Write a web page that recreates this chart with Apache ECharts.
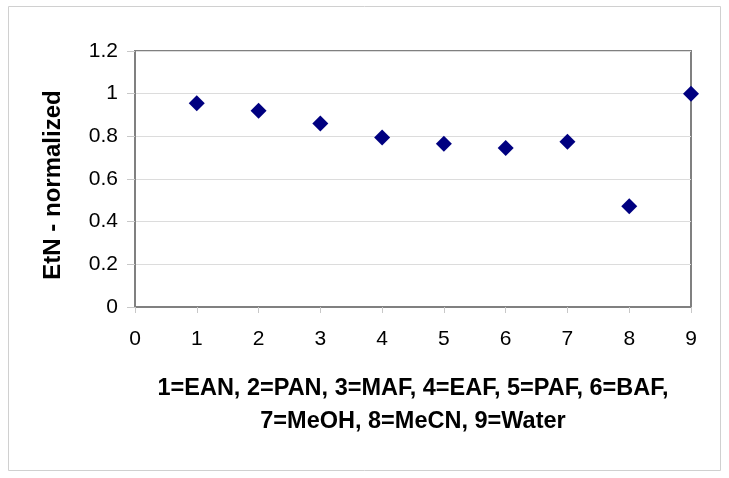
<!DOCTYPE html>
<html><head><meta charset="utf-8">
<script src="https://cdn.jsdelivr.net/npm/echarts@6/dist/echarts.min.js"></script>
<style>html,body{margin:0;padding:0;background:#fff}#c{width:729px;height:478px}</style>
</head><body><div id="c"></div>
<script>
const xValues = [1, 2, 3, 4, 5, 6, 7, 8, 9];
const etnValues = [0.955, 0.92, 0.86, 0.795, 0.765, 0.745, 0.775, 0.472, 1.0];
const xTitle = '1=EAN, 2=PAN, 3=MAF, 4=EAF, 5=PAF, 6=BAF,\n7=MeOH, 8=MeCN, 9=Water';
const yTitle = 'EtN - normalized';

const chart = echarts.init(document.getElementById('c'), null, {renderer: 'canvas'});
chart.setOption({
  animation: false,
  backgroundColor: '#fff',
  graphic: [{
    type: 'rect', shape: {x: 8.5, y: 6.5, width: 712, height: 464},
    style: {fill: 'none', stroke: '#d0d0d0', lineWidth: 1}, z: -1
  }],
  grid: {left: 135, right: 38, top: 51, bottom: 171, show: true,
         borderColor: '#808080', borderWidth: 2, backgroundColor: 'transparent'},
  xAxis: {
    type: 'value', min: 0, max: 9, interval: 1,
    name: xTitle, nameLocation: 'middle', nameGap: 65,
    nameTextStyle: {fontFamily: 'Liberation Sans', fontWeight: 'bold', fontSize: 23.5, color: '#000', lineHeight: 33},
    axisLine: {show: true, onZero: false, lineStyle: {color: '#808080', width: 2}},
    axisTick: {show: true, length: 6, lineStyle: {color: '#c8c8c8'}},
    axisLabel: {fontFamily: 'Liberation Sans', fontSize: 21, color: '#000', margin: 22},
    splitLine: {show: false}
  },
  yAxis: {
    type: 'value', min: 0, max: 1.2, interval: 0.2,
    name: yTitle, nameLocation: 'middle', nameGap: 70, nameRotate: 90,
    nameTextStyle: {fontFamily: 'Liberation Sans', fontWeight: 'bold', fontSize: 24, color: '#000',
                    padding: [0, 12, 0, 0]},
    axisLine: {show: true, lineStyle: {color: '#808080', width: 2}},
    axisTick: {show: true, length: 8, lineStyle: {color: '#c8c8c8'}},
    axisLabel: {fontFamily: 'Liberation Sans', fontSize: 21, color: '#000', margin: 17,
                formatter: v => String(Math.round(v * 10) / 10)},
    splitLine: {show: true, lineStyle: {color: '#dcdcdc', width: 1}}
  },
  series: [{
    type: 'scatter',
    data: xValues.map((x, i) => [x, etnValues[i]]),
    symbol: 'diamond', symbolSize: 16,
    itemStyle: {color: '#000080', opacity: 1},
    clip: false
  }]
});
</script></body></html>
